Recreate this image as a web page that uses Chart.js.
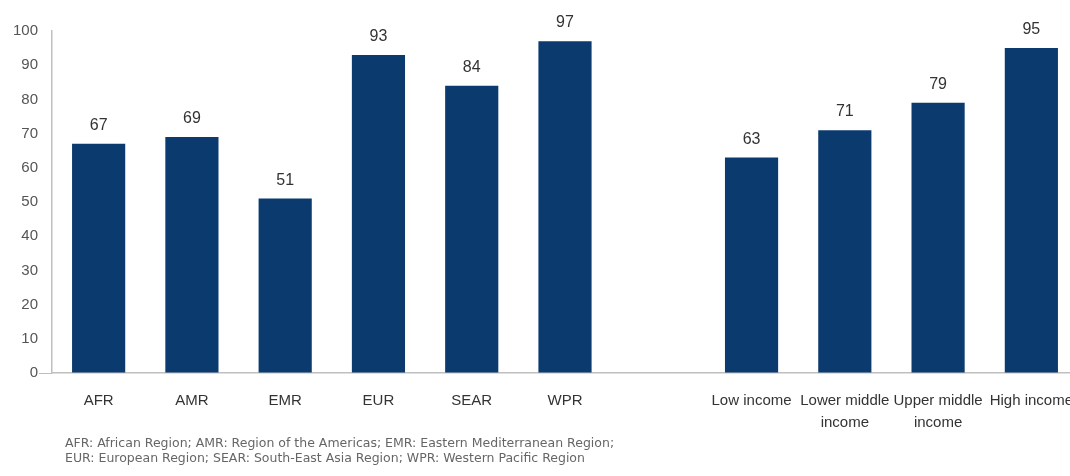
<!DOCTYPE html>
<html>
<head>
<meta charset="utf-8">
<script src="https://cdn.jsdelivr.net/npm/chart.js@4.4.1/dist/chart.umd.min.js"></script>
<style>
  html, body { margin: 0; padding: 0; background: #fff; overflow: hidden; }
  #wrap { position: relative; width: 1070px; height: 476px; overflow: hidden; }
  #chart { position: absolute; left: 0; top: 0; width: 1080px; height: 476px; }
  #note {
    position: absolute; left: 65px; top: 435px;
    font: 12.5px "DejaVu Sans", sans-serif; color: #666; line-height: 15px;
    white-space: nowrap;
  }
</style>
</head>
<body>
<div id="wrap">
  <!-- a bit wider than the window: the original is cropped on the right -->
  <canvas id="chart" width="1080" height="476"></canvas>
  <div id="note">AFR: African Region; AMR: Region of the Americas; EMR: Eastern Mediterranean Region;<br>EUR: European Region; SEAR: South-East Asia Region; WPR: Western Pacific Region</div>
</div>
<script>
// ---- data ----
const regions = ['AFR', 'AMR', 'EMR', 'EUR', 'SEAR', 'WPR'];
const regionValues = [67, 69, 51, 93, 84, 97];
const incomeGroups = [['Low income'], ['Lower middle', 'income'], ['Upper middle', 'income'], ['High income']];
const incomeValues = [63, 71, 79, 95];
const yTicks = [0, 10, 20, 30, 40, 50, 60, 70, 80, 90, 100];

// one empty slot between the two groups
const labels = [...regions, '', ...incomeGroups];
const values = [...regionValues, null, ...incomeValues];

const font = '"Liberation Sans", Arial, sans-serif';
const barColor = '#0b3a6e';
const axisColor = '#bfbfbf';

// value labels above the bars
const valueLabels = {
  id: 'valueLabels',
  afterDatasetsDraw(chart) {
    const ctx = chart.ctx;
    const meta = chart.getDatasetMeta(0);
    ctx.save();
    ctx.font = '16px ' + font;
    ctx.fillStyle = '#333';
    ctx.textAlign = 'center';
    ctx.textBaseline = 'alphabetic';
    meta.data.forEach((bar, i) => {
      const v = values[i];
      if (v == null) return;
      ctx.fillText(String(v), bar.x, bar.y - 14);
    });
    ctx.restore();
  }
};

new Chart(document.getElementById('chart'), {
  type: 'bar',
  data: {
    labels: labels,
    datasets: [{
      data: values,
      backgroundColor: barColor,
      borderWidth: 0,
      barPercentage: 0.57,
      categoryPercentage: 1.0
    }]
  },
  options: {
    responsive: false,
    animation: false,
    layout: { padding: { top: 31, left: 0, right: 2, bottom: 0 } },
    plugins: { legend: { display: false }, tooltip: { enabled: false } },
    scales: {
      x: {
        afterFit(scale) {
          scale.height = 103;
          scale.paddingLeft = 0;
          scale.paddingRight = 0;
        },
        grid: { display: false, drawTicks: false },
        border: { display: true, color: axisColor, width: 1.5 },
        ticks: {
          padding: 17,
          maxRotation: 0,
          autoSkip: false,
          color: '#333',
          font: { family: font, size: 15, lineHeight: 1.47 }
        }
      },
      y: {
        min: 0,
        max: 100,
        afterFit(scale) { scale.width = 52; },
        afterBuildTicks(scale) { scale.ticks = yTicks.map(v => ({ value: v })); },
        grid: {
          drawOnChartArea: false,
          drawTicks: true,
          tickLength: 13,
          tickColor: (c) => (c.tick && c.tick.value === 0 ? axisColor : 'rgba(0,0,0,0)')
        },
        border: { display: true, color: axisColor, width: 1.5 },
        ticks: {
          padding: 1,
          color: '#555',
          font: { family: font, size: 15 }
        }
      }
    }
  },
  plugins: [valueLabels]
});
</script>
</body>
</html>
